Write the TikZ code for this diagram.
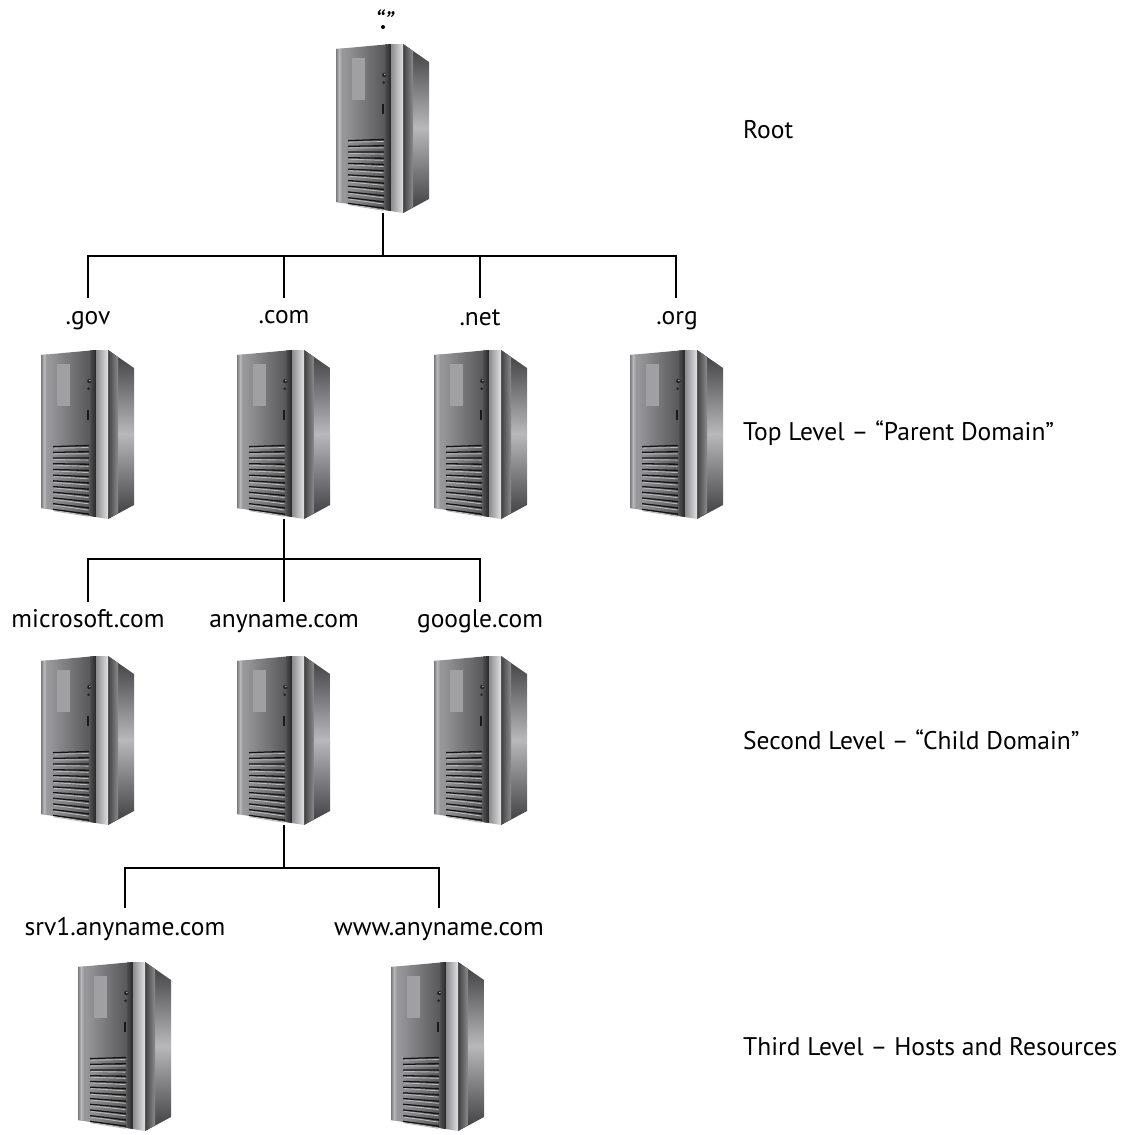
\documentclass[tikz,border=0pt]{standalone}
\usepackage{fontspec}
\setmainfont{PT Sans}
\usetikzlibrary{calc}
\definecolor{srvA}{HTML}{A4A4A6}
\definecolor{srvB}{HTML}{7A7A7C}
\definecolor{srvC}{HTML}{4E4E50}
\definecolor{srvD}{HTML}{E2E2E4}
\definecolor{srvE}{HTML}{3C3C3E}
\definecolor{srvF}{HTML}{B8B8BA}
\definecolor{srvG}{HTML}{8C8C8E}
\definecolor{srvW}{HTML}{A0A0A2}
\tikzset{
  wire/.style={draw=black,line width=1.5pt},
  level/.style={anchor=base west,font=\fontsize{25.5}{30}\selectfont,inner sep=0pt,text=black},
  dom/.style={anchor=base,font=\fontsize{25.5}{30}\selectfont,inner sep=0pt,text=black},
  srvbox/.style={minimum width=94pt,minimum height=170pt,inner sep=0pt,outer sep=0pt},
  server/.pic={
    % side panel: upper and lower parts of the gradient
    \shade[top color=srvE,bottom color=srvF]
      (67,1) -- (93,19) -- (93,85) -- (67,85) -- cycle;
    \shade[top color=srvF,bottom color=srvE]
      (67,85) -- (93,85) -- (93,156) -- (67,170) -- cycle;
    \shade[left color=black!75,right color=srvG]
      (67,1) -- (77,8) -- (77,164) -- (67,170) -- cycle;
    % front
    \shade[left color=srvA,right color=srvC]
      (0,6) -- (55,1) -- (55,168) -- (0,159) -- cycle;
    \shade[left color=srvB,right color=srvF]
      (0,6) -- (3,5.7) -- (3,159.5) -- (0,159) -- cycle;
    \shade[left color=srvF,right color=srvG]
      (3,5.7) -- (7,5.4) -- (7,160) -- (3,159.5) -- cycle;
    \shade[left color=srvC,right color=black!85]
      (49,1.5) -- (55,1) -- (55,168) -- (49,167) -- cycle;
    % pillar
    \shade[left color=srvG,right color=srvD]
      (55,1) -- (67,1) -- (67,170) -- (55,168) -- cycle;
    % window
    \fill[srvW] (16,14.5) rectangle (28.5,56.5);
    % controls
    \fill[black!85] (48.3,32) circle (2.2);
    \fill[white!75!black] (48.9,31.4) circle (0.8);
    \fill[black!85] (47.7,39.7) circle (1.5);
    \fill[black!90] (45.5,61) rectangle (47.8,71);
    % vents
    \foreach \i in {0,...,11}{
      \pgfmathsetmacro{\yy}{97+\i*5.7}
      \pgfmathsetmacro{\dd}{\i/11*6-0.5}
      \draw[white!72!black,line width=0.9pt] (13,\yy+2.1) -- (47.5,\yy+\dd+2.1);
      \fill[black!92] (12,\yy) -- (48,\yy+\dd-0.7) -- (48,\yy+\dd+0.7) -- (30,\yy+\dd/2+0.9)
        -- (12,\yy+1.3) -- cycle;
    }
  }
}
\newcommand{\srvat}[3]{%
  \pic at (#2,#3) {server};
  \node[srvbox] (#1) at (#2+47,#3+85) {};
}
\begin{document}
\begin{tikzpicture}[x=1pt,y=-1pt]
\useasboundingbox (0,0) rectangle (1122,1135);
\fill[white] (0,0) rectangle (1122,1135);

\srvat{root}{336}{43}
\srvat{gov}{41}{349}
\srvat{com}{237}{349}
\srvat{net}{434}{349}
\srvat{org}{630}{349}
\srvat{microsoft}{41}{655}
\srvat{anyname}{237}{655}
\srvat{google}{434}{655}
\srvat{srvone}{78}{961}
\srvat{www}{391}{961}

% labels
\node[dom,font=\fontsize{28}{30}\selectfont\itshape] (rootquote) at (384,31) {“”};
\node[circle,fill=black,inner sep=0pt,minimum size=4pt] (rootdot) at (383,27) {};
\node[dom] (lgov) at (88,324) {.gov};
\node[dom] (lcom) at (284,323) {.com};
\node[dom] (lnet) at (480,325) {.net};
\node[dom] (lorg) at (677,324) {.org};
\node[dom] (lmicrosoft) at (88,627) {microsoft.com};
\node[dom] (lanyname) at (284,627) {anyname.com};
\node[dom] (lgoogle) at (480,627) {google.com};
\node[dom] (lsrv) at (125,935) {srv1.anyname.com};
\node[dom] (lwww) at (439,935) {www.anyname.com};

\node[level] (troot) at (743,138) {Root};
\node[level] (ttop) at (743,440) {Top Level – “Parent Domain”};
\node[level] (tsecond) at (743,749) {Second Level – “Child Domain”};
\node[level] (tthird) at (743,1055) {Third Level – Hosts and Resources};

% junctions
\coordinate (busa) at (root.south |- 0,256);
\coordinate (ga) at (88,298);
\coordinate (ca) at (284,298);
\coordinate (na) at (480,298);
\coordinate (oa) at (676,298);
\coordinate (busb) at (com.south |- 0,559);
\coordinate (mb) at (88,602);
\coordinate (ab) at (com.south |- 0,602);
\coordinate (gb) at (480,602);
\coordinate (busc) at (anyname.south |- 0,868);
\coordinate (sc) at (125,908);
\coordinate (wc) at (439,908);

\draw[wire] (root.south) -- (busa);
\draw[wire] (ga) |- (busa) -| (oa);
\draw[wire] (busa) -| (ca);
\draw[wire] (busa) -| (na);

\draw[wire] (com.south) -- (ab);
\draw[wire] (mb) |- (busb) -| (gb);

\draw[wire] (anyname.south) -- (busc);
\draw[wire] (sc) |- (busc) -| (wc);
\end{tikzpicture}
\end{document}
